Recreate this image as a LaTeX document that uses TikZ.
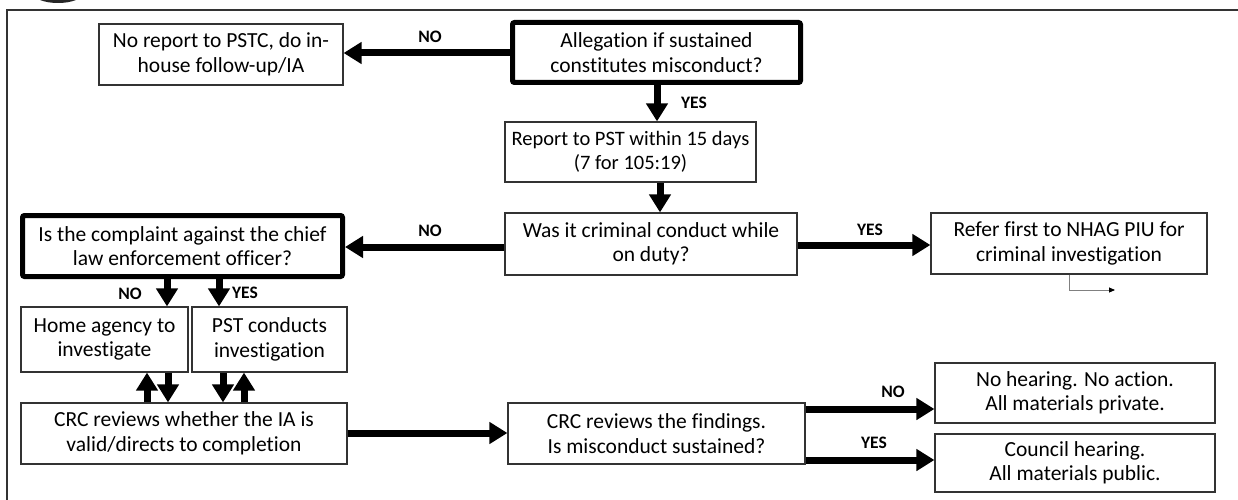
\documentclass[tikz,border=0pt]{standalone}
\usepackage{fontspec}
\setmainfont{Carlito}[Ligatures={NoCommon}]
\usetikzlibrary{arrows.meta}
\begin{document}
\begin{tikzpicture}[x=1pt,y=-1pt,
  box/.style={draw=black!80, line width=1.2pt, align=center, inner sep=0pt, font=\fontsize{21.5}{24.5}\selectfont},
  thickbox/.style={box, draw=black, line width=5pt, rounded corners=2pt},
  lbl/.style={font=\fontsize{17.5}{19}\selectfont\bfseries},
  arr/.style={line width=7pt, -{Triangle[length=18pt,width=21pt]}},
  thinarr/.style={draw=gray, line width=0.9pt, -{Triangle[length=6pt,width=5pt,color=black]}}]
\useasboundingbox (0,0) rectangle (1238,500);
% frame and partial logo
\fill[black!85] (58,-6) ellipse (24 and 9);
\draw[black!80, line width=2pt] (7,500) -- (7,10) -- (1238,10);
% nodes
\node[box, minimum width=244pt, minimum height=61pt] (b1) at (221,54.5) {No report to PSTC, do in-\\house follow-up/IA};
\node[thickbox, minimum width=288pt, minimum height=60pt] (alleg) at (656.5,52.5) {Allegation if sustained\\constitutes misconduct?};
\node[box, minimum width=251pt, minimum height=60pt, font=\fontsize{20.5}{24.5}\selectfont] (report) at (630.5,152) {Report to PST within 15 days\\(7 for 105:19)};
\node[box, minimum width=292pt, minimum height=62pt] (was) at (651,244) {Was it criminal conduct while\\on duty?};
\node[thickbox, minimum width=320pt, minimum height=61pt] (cleo) at (182.5,246) {Is the complaint against the chief\\law enforcement officer?};
\node[box, minimum width=276pt, minimum height=61pt] (refer) at (1069,243.5) {Refer first to NHAG PIU for\\criminal investigation};
\node[box, minimum width=167pt, minimum height=65pt] (home) at (104.5,339.5) {Home agency to\\investigate};
\node[box, minimum width=155pt, minimum height=65pt] (pst) at (269.5,339.5) {PST conducts\\investigation};
\node[box, minimum width=326pt, minimum height=61pt] (crc1) at (184,433.5) {CRC reviews whether the IA is\\valid/directs to completion};
\node[box, minimum width=297pt, minimum height=61pt] (crc2) at (656.5,433.5) {CRC reviews the findings.\\Is misconduct sustained?};
\node[box, minimum width=280pt, minimum height=60pt] (nohear) at (1075,393) {No hearing. No action.\\All materials private.};
\node[box, minimum width=280pt, minimum height=58pt] (council) at (1075,463) {Council hearing.\\All materials public.};
% labels
\node[lbl] (lNOa) at (430,37) {NO};
\node[lbl] (lYESa) at (694,103) {YES};
\node[lbl] (lNOb) at (430,231) {NO};
\node[lbl] (lYESb) at (870,230) {YES};
\node[lbl] (lNOc) at (130,294) {NO};
\node[lbl] (lYESc) at (245,293) {YES};
\node[lbl] (lNOd) at (893,392) {NO};
\node[lbl] (lYESd) at (874,443) {YES};
% helper coordinates
\coordinate (yA) at (0,53);
\coordinate (xA) at (657,0);
\coordinate (xB) at (660,0);
\coordinate (yB) at (0,247);
\coordinate (yC) at (0,245);
\coordinate (xC) at (167,0);
\coordinate (xD) at (219,0);
\coordinate (xE) at (147,0);
\coordinate (xF) at (168,0);
\coordinate (xG) at (223,0);
\coordinate (xH) at (244,0);
\coordinate (yD) at (0,433);
\coordinate (yE) at (0,409);
\coordinate (yF) at (0,460);
\coordinate (xT) at (1069,0);
\coordinate (tEnd) at (1115,290);
% connectors
\draw[arr] (alleg.west |- yA) -- (b1.east |- yA);
\draw[arr] (alleg.south -| xA) -- (report.north -| xA);
\draw[arr] (report.south -| xB) -- (was.north -| xB);
\draw[arr] (was.west |- yB) -- (cleo.east |- yB);
\draw[arr] (was.east |- yC) -- (refer.west |- yC);
\draw[arr] (cleo.south -| xC) -- (home.north -| xC);
\draw[arr] (cleo.south -| xD) -- (pst.north -| xD);
\draw[arr] (crc1.north -| xE) -- (home.south -| xE);
\draw[arr] (home.south -| xF) -- (crc1.north -| xF);
\draw[arr] (pst.south -| xG) -- (crc1.north -| xG);
\draw[arr] (crc1.north -| xH) -- (pst.south -| xH);
\draw[arr] (crc1.east |- yD) -- (crc2.west |- yD);
\draw[arr] (crc2.east |- yE) -- (nohear.west |- yE);
\draw[arr] (crc2.east |- yF) -- (council.west |- yF);
\draw[thinarr] (refer.south -| xT) |- (tEnd);
\end{tikzpicture}
\end{document}
